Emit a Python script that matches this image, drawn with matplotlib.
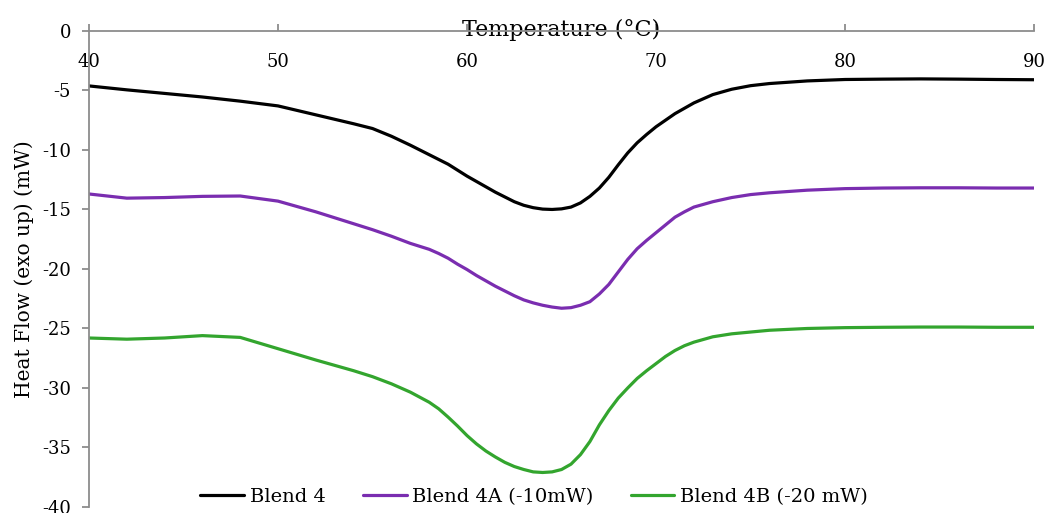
import matplotlib
matplotlib.use("Agg")
import matplotlib.pyplot as plt

plt.rcParams['font.family'] = ['DejaVu Serif']
plt.rcParams['axes.unicode_minus'] = False

temperature = [40, 42, 44, 46, 48, 50, 52, 54, 55, 56, 57, 58, 58.5, 59, 59.5, 60, 60.5,
               61, 61.5, 62, 62.5, 63, 63.5, 64, 64.5, 65, 65.5, 66, 66.5, 67, 67.5, 68,
               68.5, 69, 69.5, 70, 70.5, 71, 71.5, 72, 73, 74, 75, 76, 78, 80, 82, 84, 86,
               88, 90]

blend4 = [-4.62, -4.95, -5.25, -5.55, -5.9, -6.3, -7.05, -7.8, -8.2, -8.85, -9.6, -10.4,
          -10.8, -11.2, -11.7, -12.2, -12.65, -13.1, -13.55, -13.95, -14.35, -14.65, -14.85,
          -14.97, -15.0, -14.95, -14.8, -14.45, -13.9, -13.2, -12.3, -11.25, -10.25, -9.4,
          -8.7, -8.05, -7.5, -6.95, -6.5, -6.05, -5.35, -4.9, -4.6, -4.42, -4.2, -4.08,
          -4.05, -4.03, -4.05, -4.08, -4.1]

blend4a = [-13.7, -14.05, -14.0, -13.9, -13.87, -14.3, -15.2, -16.2, -16.7, -17.25, -17.85,
           -18.35, -18.7, -19.1, -19.6, -20.05, -20.55, -21.0, -21.45, -21.85, -22.25,
           -22.6, -22.85, -23.05, -23.2, -23.3, -23.25, -23.05, -22.75, -22.1, -21.3,
           -20.25, -19.2, -18.3, -17.6, -16.95, -16.3, -15.65, -15.2, -14.8, -14.35, -14.0,
           -13.75, -13.6, -13.38, -13.25, -13.2, -13.18, -13.18, -13.2, -13.2]

blend4b = [-25.8, -25.9, -25.8, -25.6, -25.75, -26.7, -27.65, -28.55, -29.05, -29.65, -30.35,
           -31.2, -31.75, -32.45, -33.2, -34.0, -34.7, -35.3, -35.8, -36.25, -36.6, -36.85,
           -37.05, -37.1, -37.05, -36.85, -36.4, -35.6, -34.5, -33.1, -31.9, -30.85, -30.0,
           -29.2, -28.55, -27.95, -27.35, -26.85, -26.45, -26.15, -25.7, -25.45, -25.3,
           -25.15, -25.0, -24.93, -24.9, -24.88, -24.88, -24.9, -24.9]

series_labels = ["Blend 4", "Blend 4A (-10mW)", "Blend 4B (-20 mW)"]
series_colors = ["#000000", "#7A2DB0", "#33A52E"]

x_ticks = [40, 50, 60, 70, 80, 90]
y_ticks = [0, -5, -10, -15, -20, -25, -30, -35, -40]

fig = plt.figure(figsize=(10.47, 5.13), dpi=100)
ax = fig.add_axes([0.085, 0.0117, 0.9027, 0.928])

for ys, lab, col in zip([blend4, blend4a, blend4b], series_labels, series_colors):
    ax.plot(temperature, ys, color=col, lw=2.3, label=lab,
            solid_capstyle='round', solid_joinstyle='round')

ax.set_xlim(40, 90)
ax.set_ylim(-40, 0)
ax.set_xticks(x_ticks)
ax.set_yticks(y_ticks)
ax.set_yticklabels([str(v) for v in y_ticks])

spine_col = '#8c8c8c'
for s in ['right', 'bottom']:
    ax.spines[s].set_visible(False)
for s in ['top', 'left']:
    ax.spines[s].set_color(spine_col)
    ax.spines[s].set_linewidth(1.3)

ax.tick_params(axis='x', top=True, bottom=False, labeltop=True, labelbottom=False,
               direction='out', length=5, width=1.3, color=spine_col, pad=-34,
               labelsize=13)
ax.tick_params(axis='y', direction='out', length=5, width=1.3, color=spine_col,
               labelsize=13, pad=8)

ax.xaxis.set_label_position('top')
ax.set_xlabel("Temperature (°C)", fontsize=16, labelpad=-9)
ax.set_ylabel("Heat Flow (exo up) (mW)", fontsize=14.5, labelpad=6)

ax.legend(loc='lower center', ncol=3, frameon=False, fontsize=14,
          bbox_to_anchor=(0.471, -0.035), handlelength=2.25, columnspacing=1.9,
          handletextpad=0.3)

fig.savefig("out.png", dpi=100)
